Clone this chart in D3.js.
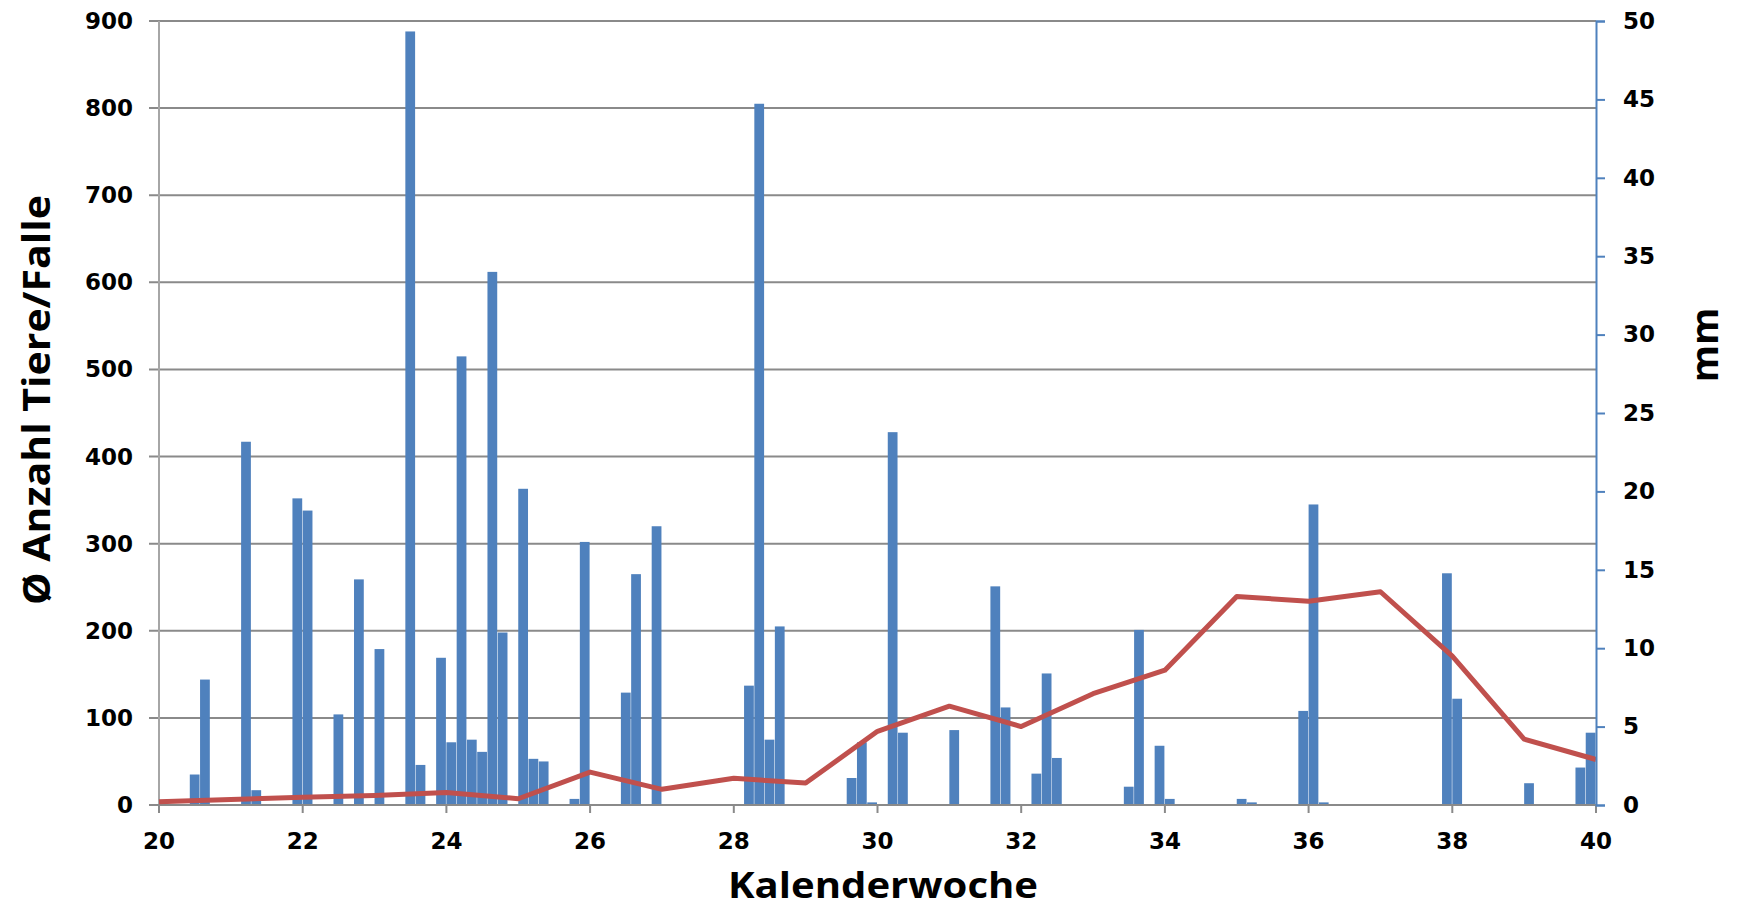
<!DOCTYPE html>
<html><head><meta charset="utf-8">
<script src="https://cdn.jsdelivr.net/npm/d3@7"></script>
<style>body{margin:0;background:#fff}</style></head>
<body><svg id="c" width="1738" height="912"></svg>
<script>
// daily bars: day index from week 20 (7 per week), value = mean count per trap
const barDays = [3,4,8,9,13,14,17,19,21,24,25,27,28,29,30,31,32,33,35,36,37,40,41,45,46,48,
  57,58,59,60,67,68,69,71,72,77,81,82,85,86,87,94,95,97,98,105,106,111,112,113,125,126,133,138,139];
const barValues = [35,144,417,17,352,338,104,259,179,888,46,169,72,515,75,61,612,198,363,53,50,7,302,129,265,320,
  137,805,75,205,31,72,3,428,83,86,251,112,36,151,54,21,201,68,7,7,3,108,345,3,266,122,25,43,83];
// weekly precipitation (mm)
const weeks = d3.range(20, 41);
const rainMm = [0.2,0.35,0.5,0.6,0.8,0.4,2.1,1.0,1.7,1.4,4.7,6.3,5.0,7.1,8.6,13.3,13.0,13.6,9.5,4.2,2.9];
const xTicks = d3.range(20, 41, 2);

const svg = d3.select("#c");
const L = 159, R = 1596, T = 21, B = 805;
const x = d3.scaleLinear().domain([20, 40]).range([L, R]);
const y = d3.scaleLinear().domain([0, 900]).range([B, T]);
const y2 = d3.scaleLinear().domain([0, 50]).range([B, T]);
const tickFont = "'DejaVu Sans', Verdana, sans-serif";

// gridlines
svg.append("g").selectAll("line").data(d3.range(100, 901, 100)).join("line")
  .attr("x1", L - 10).attr("x2", R).attr("y1", d => y(d)).attr("y2", d => y(d))
  .attr("stroke", "#8a8a8a").attr("stroke-width", 2);

// bars
const dayW = (x(21) - x(20)) / 7;
svg.append("g").selectAll("rect").data(barDays).join("rect")
  .attr("x", d => x(20 + d / 7)).attr("width", dayW - 0.5)
  .attr("y", (d, i) => y(barValues[i])).attr("height", (d, i) => B - y(barValues[i]))
  .attr("fill", "#4f81bd");

// left axis line and bottom axis
svg.append("line").attr("x1", L).attr("x2", L).attr("y1", T).attr("y2", B)
  .attr("stroke", "#a6a6a6").attr("stroke-width", 2);
svg.append("line").attr("x1", L - 10).attr("x2", R).attr("y1", B).attr("y2", B)
  .attr("stroke", "#8a8a8a").attr("stroke-width", 2);
svg.append("g").selectAll("line").data(xTicks).join("line")
  .attr("x1", d => x(d)).attr("x2", d => x(d)).attr("y1", B).attr("y2", B + 8)
  .attr("stroke", "#8a8a8a").attr("stroke-width", 2);

// line series
svg.append("path").datum(weeks)
  .attr("d", d3.line().x(d => x(d)).y((d, i) => y2(rainMm[i])))
  .attr("fill", "none").attr("stroke", "#c0504d").attr("stroke-width", 5)
  .attr("stroke-linejoin", "round");

// right axis
const ra = svg.append("g").attr("transform", `translate(${R},0)`)
  .call(d3.axisRight(y2).tickValues(d3.range(0, 51, 5)).tickSize(9).tickPadding(18));
ra.select(".domain").attr("stroke", "#4f81bd").attr("stroke-width", 2);
ra.selectAll(".tick line").attr("stroke", "#4f81bd").attr("stroke-width", 2);
ra.selectAll("text").attr("font-family", tickFont).attr("font-weight", "bold")
  .attr("font-size", 23).attr("fill", "#000");

// left tick labels
svg.append("g").selectAll("text").data(d3.range(0, 901, 100)).join("text")
  .attr("x", L - 26).attr("y", d => y(d)).attr("dy", "0.35em").attr("text-anchor", "end")
  .attr("font-family", tickFont).attr("font-weight", "bold").attr("font-size", 23).text(d => d);
// bottom tick labels
svg.append("g").selectAll("text").data(xTicks).join("text")
  .attr("x", d => x(d)).attr("y", B + 44).attr("text-anchor", "middle")
  .attr("font-family", tickFont).attr("font-weight", "bold").attr("font-size", 23).text(d => d);

// titles
const titleFont = "'Open Sans', 'Liberation Sans', sans-serif";
svg.append("text").attr("transform", "translate(50,400) rotate(-90)").attr("text-anchor", "middle")
  .attr("font-family", titleFont).attr("font-weight", "bold").attr("font-size", 38)
  .attr("textLength", 410).attr("lengthAdjust", "spacingAndGlyphs").text("Ø Anzahl Tiere/Falle");
svg.append("text").attr("transform", "translate(1718,345) rotate(-90)").attr("text-anchor", "middle")
  .attr("font-family", titleFont).attr("font-weight", "bold").attr("font-size", 38).text("mm");
svg.append("text").attr("x", 883).attr("y", 898).attr("text-anchor", "middle")
  .attr("font-family", titleFont).attr("font-weight", "bold").attr("font-size", 36)
  .attr("textLength", 310).attr("lengthAdjust", "spacingAndGlyphs").text("Kalenderwoche");
</script></body></html>
